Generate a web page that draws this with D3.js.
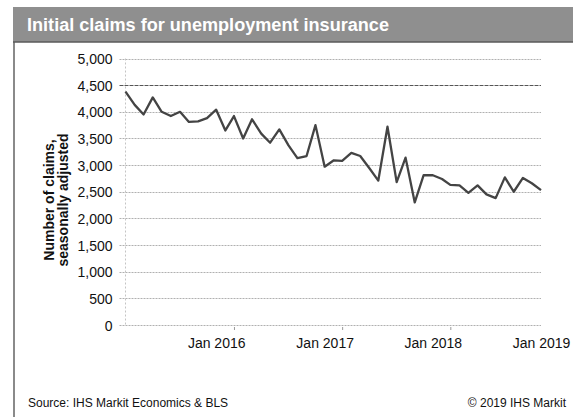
<!DOCTYPE html>
<html>
<head>
<meta charset="utf-8">
<script src="https://cdn.jsdelivr.net/npm/d3@7"></script>
<style>
  body { margin: 0; background: #fff; }
  text { font-family: "Liberation Sans", Arial, sans-serif; }
</style>
</head>
<body>
<div id="chart"></div>
<script>
// monthly initial claims, Mar 2015 - Jan 2019
var months = [
  "2015-03", "2015-04", "2015-05", "2015-06", "2015-07", "2015-08", "2015-09", "2015-10", "2015-11", "2015-12",
  "2016-01", "2016-02", "2016-03", "2016-04", "2016-05", "2016-06", "2016-07", "2016-08", "2016-09", "2016-10", "2016-11", "2016-12",
  "2017-01", "2017-02", "2017-03", "2017-04", "2017-05", "2017-06", "2017-07", "2017-08", "2017-09", "2017-10", "2017-11", "2017-12",
  "2018-01", "2018-02", "2018-03", "2018-04", "2018-05", "2018-06", "2018-07", "2018-08", "2018-09", "2018-10", "2018-11", "2018-12",
  "2019-01"
];
var claims = [
  4380, 4130, 3950, 4270, 4000, 3920, 4000, 3810, 3820, 3880,
  4040, 3650, 3920, 3500, 3860, 3590, 3420, 3670, 3370, 3130, 3170, 3750,
  2970, 3090, 3080, 3230, 3170, 2940, 2710, 3720, 2680, 3140, 2300, 2810,
  2810, 2740, 2630, 2620, 2480, 2620, 2450, 2380, 2770, 2500, 2760, 2660,
  2530
];
var xLabelDates = ["2016-01", "2017-01", "2018-01", "2019-01"];
var xLabels = ["Jan 2016", "Jan 2017", "Jan 2018", "Jan 2019"];
var xTickDates = ["2016-03", "2017-03", "2018-03"];
var yTicks = [0, 500, 1000, 1500, 2000, 2500, 3000, 3500, 4000, 4500, 5000];

var title = "Initial claims for unemployment insurance";
var yTitle = ["Number of claims,", "seasonally adjusted"];
var source = "Source: IHS Markit Economics & BLS";
var copyright = "\u00a9 2019 IHS Markit";

var W = 573, H = 417;
var plot = {left: 125.5, right: 541, top: 58.5, bottom: 325};

var parseMonth = d3.timeParse("%Y-%m");
var data = months.map(function(m, i) { return {date: parseMonth(m), value: claims[i]}; });

var svg = d3.select("#chart")
  .append("svg")
    .attr("width", W)
    .attr("height", H);

svg.append("rect").attr("width", W).attr("height", H).attr("fill", "#fff");

// frame: title bar + left border
svg.append("line")
  .attr("x1", 14).attr("x2", 14)
  .attr("y1", 42).attr("y2", H)
  .attr("stroke", "#8a8a8a")
  .attr("stroke-width", 2);

svg.append("rect")
  .attr("x", 13).attr("y", 7)
  .attr("width", W - 13).attr("height", 35)
  .attr("fill", "#8f8f8f");

svg.append("line")
  .attr("x1", 13).attr("x2", W)
  .attr("y1", 42).attr("y2", 42)
  .attr("stroke", "#5a5a5a")
  .attr("stroke-width", 1.5);

svg.append("text")
  .attr("x", 27)
  .attr("y", 31)
  .attr("fill", "#fff")
  .style("font-size", "17.5px")
  .style("font-weight", "bold")
  .attr("textLength", 362)
  .attr("lengthAdjust", "spacingAndGlyphs")
  .text(title);

var xScale = d3.scaleTime()
  .domain(d3.extent(data, function(d) { return d.date; }))
  .range([plot.left, plot.right]);

var yScale = d3.scaleLinear()
  .domain([0, 5000])
  .range([plot.bottom, plot.top]);

// gridlines
svg.append("g")
  .selectAll("line.grid")
  .data(yTicks)
  .enter()
  .append("line")
    .attr("class", "grid")
    .attr("x1", plot.left - 6)
    .attr("x2", plot.right)
    .attr("y1", function(d) { return Math.round(yScale(d)) + 0.5; })
    .attr("y2", function(d) { return Math.round(yScale(d)) + 0.5; })
    .attr("stroke", function(d) { return d === 4500 ? "#555" : "#b0b0b0"; })
    .attr("stroke-dasharray", function(d) { return d === 4500 ? "4,1" : "2,1"; })
    .attr("stroke-width", 1);

// y axis line
svg.append("line")
  .attr("x1", plot.left).attr("x2", plot.left)
  .attr("y1", plot.top).attr("y2", plot.bottom)
  .attr("stroke", "#c4c4c4")
  .attr("stroke-dasharray", "2,2");

// y tick labels
var yAxis = svg.append("g")
  .attr("transform", "translate(" + (plot.left - 13) + ",0)")
  .call(d3.axisLeft(yScale).tickValues(yTicks).tickSize(0).tickFormat(d3.format(",")));
yAxis.select(".domain").remove();
yAxis.selectAll("text")
  .attr("x", 0)
  .attr("dy", "0.36em")
  .style("font-size", "14px")
  .style("font-family", "'Liberation Sans', Arial, sans-serif")
  .attr("fill", "#111");

// small tick marks on the x axis
var xTicks = svg.append("g")
  .attr("transform", "translate(0," + (plot.bottom + 2) + ")")
  .call(d3.axisBottom(xScale).tickValues(xTickDates.map(parseMonth)).tickSize(3).tickFormat(""));
xTicks.select(".domain").remove();
xTicks.selectAll("line").attr("stroke", "#999");

// x labels
var xAxis = svg.append("g")
  .attr("transform", "translate(0," + plot.bottom + ")")
  .call(d3.axisBottom(xScale)
    .tickValues(xLabelDates.map(parseMonth))
    .tickSize(0)
    .tickFormat(function(d, i) { return xLabels[i]; }));
xAxis.select(".domain").remove();
xAxis.selectAll("text")
  .attr("y", 23)
  .attr("dy", 0)
  .style("font-size", "14px")
  .style("font-family", "'Liberation Sans', Arial, sans-serif")
  .attr("fill", "#111");

// y axis title
svg.append("text")
  .attr("transform", "translate(54,200) rotate(-90)")
  .style("text-anchor", "middle")
  .style("font-size", "14px")
  .style("font-weight", "bold")
  .attr("fill", "#111")
  .text(yTitle[0]);
svg.append("text")
  .attr("transform", "translate(68,200) rotate(-90)")
  .style("text-anchor", "middle")
  .style("font-size", "14px")
  .style("font-weight", "bold")
  .attr("fill", "#111")
  .text(yTitle[1]);

// the line
var line = d3.line()
  .x(function(d) { return xScale(d.date); })
  .y(function(d) { return yScale(d.value); });

svg.append("path")
  .datum(data)
  .attr("fill", "none")
  .attr("stroke", "#444")
  .attr("stroke-width", 2.3)
  .attr("stroke-linejoin", "round")
  .attr("d", line);

// footer
svg.append("text")
  .attr("x", 28)
  .attr("y", 407)
  .style("font-size", "12px")
  .attr("fill", "#111")
  .text(source);

svg.append("text")
  .attr("x", 566)
  .attr("y", 407)
  .style("text-anchor", "end")
  .style("font-size", "12px")
  .attr("fill", "#111")
  .text(copyright);
</script>
</body>
</html>
